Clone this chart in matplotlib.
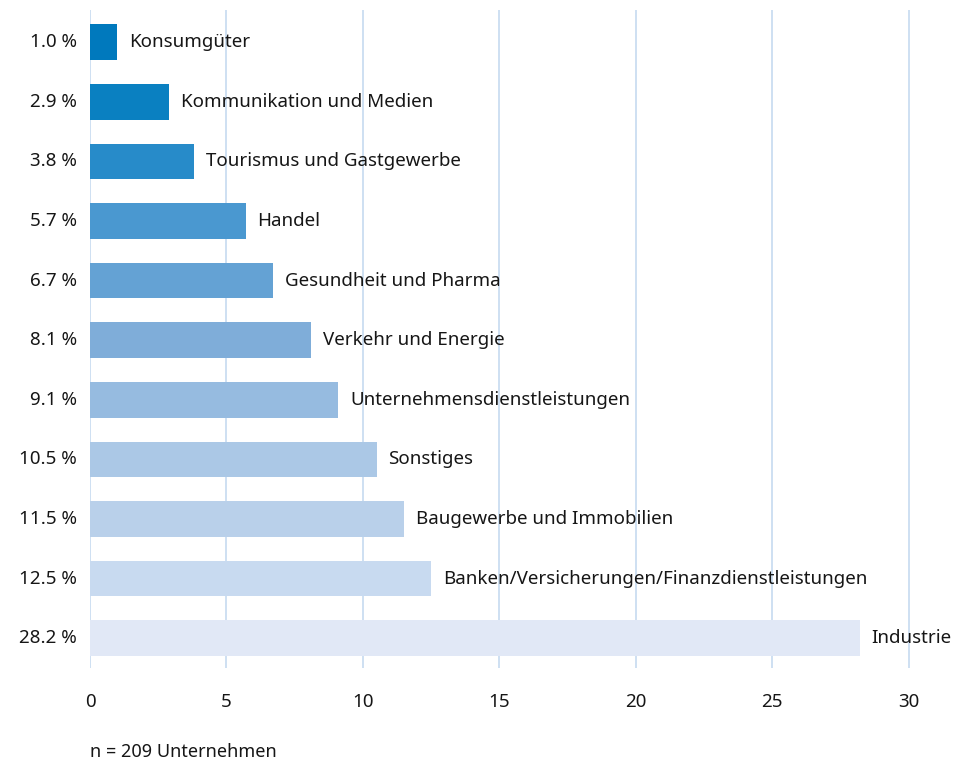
import matplotlib.pyplot as plt
from matplotlib.transforms import offset_copy

plt.rcParams["font.family"] = ["Noto Sans", "DejaVu Sans"]

categories = [
    "Konsumgüter",
    "Kommunikation und Medien",
    "Tourismus und Gastgewerbe",
    "Handel",
    "Gesundheit und Pharma",
    "Verkehr und Energie",
    "Unternehmensdienstleistungen",
    "Sonstiges",
    "Baugewerbe und Immobilien",
    "Banken/Versicherungen/Finanzdienstleistungen",
    "Industrie",
]
shares = [1.0, 2.9, 3.8, 5.7, 6.7, 8.1, 9.1, 10.5, 11.5, 12.5, 28.2]
colors = [
    "#0079BD", "#0A80C1", "#278BC9", "#4A98D0", "#64A2D4", "#7FADD9",
    "#96BBE0", "#ABC8E6", "#B9D0EA", "#C8DAF0", "#E1E8F6",
]
xticks = [0, 5, 10, 15, 20, 25, 30]

W, H = 967, 761
FS = 13.5
fig = plt.figure(figsize=(W / 100, H / 100), dpi=100)
ax = fig.add_axes([90 / W, 1 - 668 / H, (936 - 90) / W, (668 - 10) / H])

pos = list(range(len(categories)))
ax.barh(pos, shares, height=0.6, color=colors, zorder=2)
ax.set_xlim(0, 31)
ax.set_ylim(10.5, -0.54)

ax.set_xticks(xticks)
ax.xaxis.grid(True, color="#C6DAF0", lw=1.2, zorder=0)
ax.tick_params(axis="x", length=0, pad=18, labelsize=FS, colors="#161616")
ax.set_yticks([])
for s in ax.spines.values():
    s.set_visible(False)

for p, v, name in zip(pos, shares, categories):
    ax.text(v, p, name, ha="left", va="center", fontsize=FS, color="#161616",
            transform=offset_copy(ax.transData, fig=fig, x=12, y=0, units="dots"))
    ax.text(0, p, f"{v:.1f} %", ha="right", va="center", fontsize=FS, color="#161616",
            transform=offset_copy(ax.transData, fig=fig, x=-13, y=0, units="dots"))

fig.text(90 / W, 1 - 752 / H, "n = 209 Unternehmen", ha="left", va="center",
         fontsize=FS - 0.5, color="#161616")

fig.savefig("out.png", dpi=100)
